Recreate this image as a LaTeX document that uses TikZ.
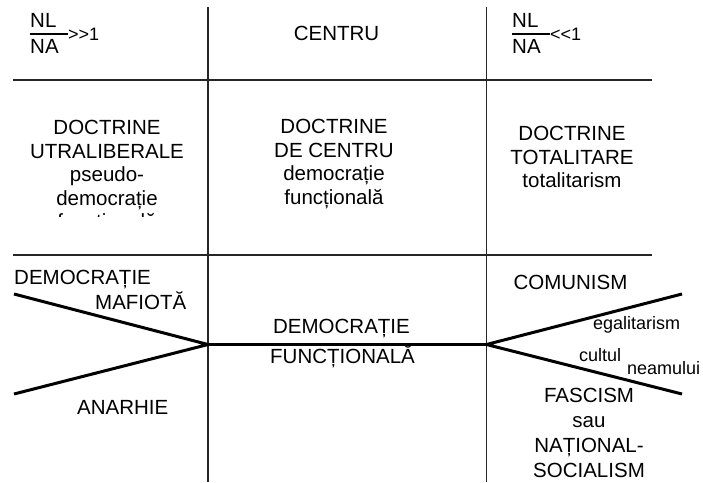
\documentclass[tikz,border=0pt]{standalone}
\usepackage{fontspec}
\setmainfont{Liberation Sans}
\begin{document}
\begin{tikzpicture}[x=1pt,y=-1pt,
  lbl/.style={inner sep=0pt, font=\fontsize{20.5}{23.5}\selectfont},
  smalllbl/.style={inner sep=0pt, font=\fontsize{18}{21}\selectfont},
  gridline/.style={line width=1.1pt, black!85},
  heavyline/.style={line width=3pt, line join=miter},
  fracline/.style={line width=1.1pt}
]
\useasboundingbox (0,0) rectangle (703,482);

% grid coordinates
\coordinate (vlt) at (208,7);   \coordinate (vlb) at (208,482);
\coordinate (vrt) at (486.5,7); \coordinate (vrb) at (486.5,482);
\coordinate (h1l) at (13,80);   \coordinate (h1r) at (652,80);
\coordinate (h2l) at (13,255);  \coordinate (h2r) at (652,255);
\draw[gridline] (vlt) -- (vlb);
\draw[gridline] (vrt) -- (vrb);
\draw[gridline] (h1l) -- (h1r);
\draw[gridline] (h2l) -- (h2r);

% header row
\node[lbl, anchor=base west] (nl1) at (30,27) {NL};
\node[lbl, anchor=base west] (na1) at (30,53) {NA};
\coordinate (f1a) at (30,34); \coordinate (f1b) at (68,34);
\draw[fracline] (f1a) -- (f1b);
\node[smalllbl, anchor=base west] (gg1) at (68,40) {>\kern0pt>\kern0pt1};

\node[lbl, anchor=base] (centru) at (336.5,40) {CENTRU};

\node[lbl, anchor=base west] (nl2) at (512,27) {NL};
\node[lbl, anchor=base west] (na2) at (512,53) {NA};
\coordinate (f2a) at (512,34); \coordinate (f2b) at (550,34);
\draw[fracline] (f2a) -- (f2b);
\node[smalllbl, anchor=base west] (ll2) at (550,40) {<\kern0pt<\kern0pt1};

% doctrine row
\begin{scope}
  \clip (13,80) rectangle (208,216.5);
  \node[lbl, align=center, anchor=north] (doctul) at (107,120) {DOCTRINE\\UTRALIBERALE\\pseudo-\\democrație\\funcțională};
\end{scope}
\node[lbl, align=center, anchor=north] (doctc) at (334,119) {DOCTRINE\\DE CENTRU\\democrație\\funcțională};
\node[lbl, align=center, anchor=north] (doctt) at (572,126) {DOCTRINE\\TOTALITARE\\totalitarism};

% lower row: wedges
\coordinate (jl) at (208,344.5);
\coordinate (jr) at (486.5,344.5);
\coordinate (lu) at (14,294);  \coordinate (ll) at (14,394);
\coordinate (ru) at (682,294); \coordinate (rl) at (682,394);
\draw[heavyline] (lu) -- (jl) -- (ll);
\draw[heavyline] (jl) -- (jr);
\draw[heavyline] (ru) -- (jr) -- (rl);

\node[lbl, anchor=base west] (dm1) at (14,284) {DEMOCRAȚIE};
\node[lbl, anchor=base west] (dm2) at (95,309) {MAFIOTĂ};
\node[lbl, anchor=base west] (anar) at (77,414) {ANARHIE};

\node[lbl, anchor=base] (df1) at (341.5,333) {DEMOCRAȚIE};
\node[lbl, anchor=base] (df2) at (342.5,363) {FUNCȚIONALĂ};

\node[lbl, anchor=base] (comu) at (570.5,289) {COMUNISM};
\node[smalllbl, anchor=base west] (egal) at (593,329) {egalitarism};
\node[smalllbl, anchor=base west] (cult) at (579,361) {cultul};
\node[smalllbl, anchor=base west] (neam) at (627,374) {neamului};
\node[lbl, align=center, anchor=north, font=\fontsize{20.5}{25}\selectfont] (fasc) at (589,387.5) {FASCISM\\sau\\NAȚIONAL-\\SOCIALISM};
\end{tikzpicture}
\end{document}
